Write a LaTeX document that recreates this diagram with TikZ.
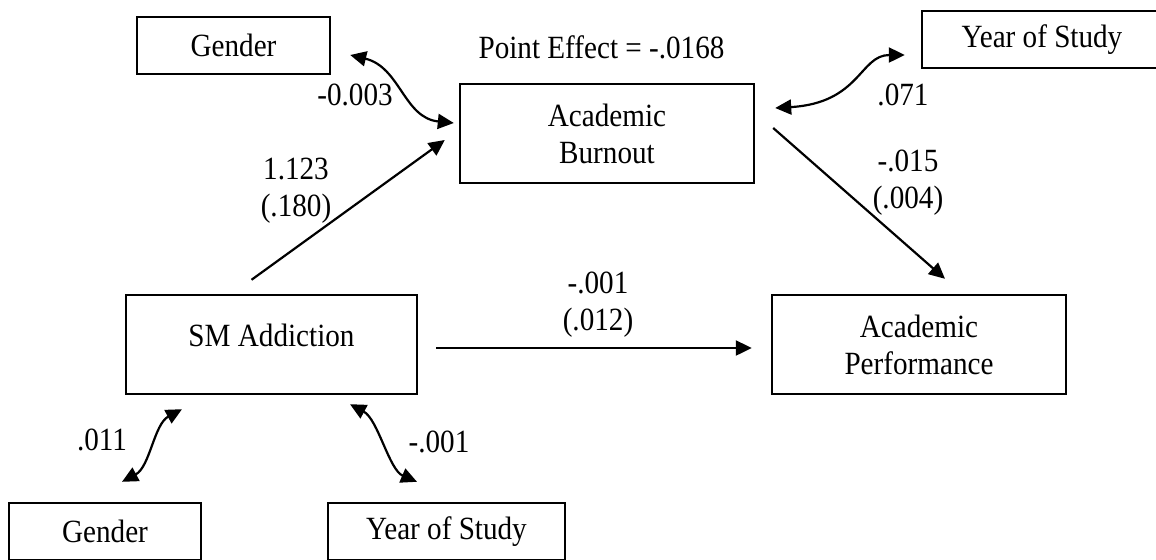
\documentclass[tikz,border=0pt]{standalone}
\usepackage{fontspec}
\setmainfont{Liberation Serif}[FakeStretch=0.9]
\usetikzlibrary{arrows.meta, positioning, calc}

\begin{document}
\begin{tikzpicture}[x=0.5pt, y=-0.5pt,
    font=\fontsize{16.2}{18.5}\selectfont,
    box/.style={draw, line width=1.2pt, inner sep=0pt, align=center},
    arr/.style={line width=1.1pt, -{Triangle[length=8pt, width=7.5pt]}},
    dblarr/.style={line width=1.1pt, {Triangle[length=8pt, width=7.5pt]}-{Triangle[length=8pt, width=7.5pt]}},
    lbl/.style={align=center, inner sep=0pt}]
  \useasboundingbox (0,0) rectangle (1156,559);

  % Variables
  \node[box, minimum width=96.5pt, minimum height=28.5pt] (gendtop) at (233.5,45.5) {Gender};
  \node[box, minimum width=147pt, minimum height=49.5pt] (burnout) at (607,133.5) {Academic\\Burnout};
  \node[box, minimum width=120pt, minimum height=28.5pt] (yeartop) at (1042,39.5) {Year of Study};
  \node[box, minimum width=145.5pt, minimum height=49.5pt, text depth=9.5pt] (smadd) at (271.5,344.5) {SM Addiction};
  \node[box, minimum width=147pt, minimum height=49.5pt] (perf) at (919,344.5) {Academic\\Performance};
  \node[box, minimum width=96pt, minimum height=28.5pt] (gendbot) at (105,531.5) {Gender};
  \node[box, minimum width=118.5pt, minimum height=28.5pt] (yearbot) at (446.5,531.5) {Year of Study};

  % Effect
  \node[lbl] (effect) at (601.5,47) {Point Effect = -.0168};

  % Paths
  \draw[arr] ([shift={(-20,-14)}]smadd.north) -- ([shift={(-14,6.5)}]burnout.west);
  \draw[arr] ([shift={(18,-5.5)}]burnout.east) -- ([shift={(26,-15)}]perf.north);
  \draw[arr] ([shift={(18,3.5)}]smadd.east) -- ([shift={(-19,3.5)}]perf.west);

  % Covariances
  \draw[dblarr] ([shift={(19,9.5)}]gendtop.east) .. controls +(50,12) and +(-50,-5) .. ([shift={(-5,-10.5)}]burnout.west);
  \draw[dblarr] ([shift={(20,-25.5)}]burnout.east) .. controls +(85,-5) and +(-45,0) .. ([shift={(-16,15.5)}]yeartop.west);
  \draw[dblarr] ([shift={(-89.5,14)}]smadd.south) .. controls +(-28,15) and +(28,-15) .. ([shift={(17,-20)}]gendbot.north);
  \draw[dblarr] ([shift={(78.5,9)}]smadd.south) .. controls +(28,15) and +(-28,-12) .. ([shift={(-29.5,-20)}]yearbot.north);

  % Coefficients
  \node[lbl] (cab) at (296,191) {1.123\\(.180)};
  \node[lbl] (cbp) at (908,183) {-.015\\(.004)};
  \node[lbl] (csp) at (598,305) {-.001\\(.012)};
  \node[lbl] (cgt) at (355,95) {-0.003};
  \node[lbl] (cyt) at (903,95) {.071};
  \node[lbl] (cgb) at (102,440) {.011};
  \node[lbl] (cyb) at (439,442) {-.001};
\end{tikzpicture}
\end{document}
